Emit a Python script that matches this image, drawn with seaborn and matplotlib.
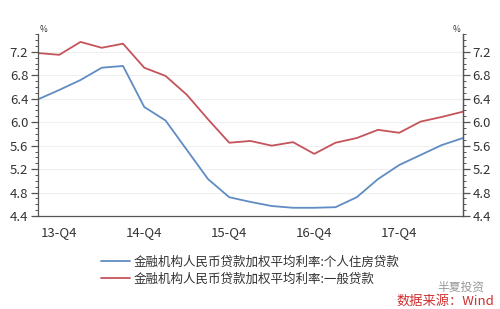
import matplotlib
matplotlib.use("Agg")
import matplotlib.pyplot as plt
import seaborn as sns
import pandas as pd
import numpy as np
from matplotlib.ticker import FixedLocator, MultipleLocator
from matplotlib.lines import Line2D

quarters = ["13-Q3", "13-Q4", "14-Q1", "14-Q2", "14-Q3", "14-Q4", "15-Q1", "15-Q2",
            "15-Q3", "15-Q4", "16-Q1", "16-Q2", "16-Q3", "16-Q4", "17-Q1", "17-Q2",
            "17-Q3", "17-Q4", "18-Q1", "18-Q2", "18-Q3"]
mortgage = [6.39, 6.55, 6.72, 6.93, 6.96, 6.26, 6.03, 5.53, 5.03, 4.72, 4.64,
            4.57, 4.54, 4.54, 4.55, 4.72, 5.03, 5.27, 5.44, 5.61, 5.73]
general = [7.18, 7.15, 7.37, 7.27, 7.34, 6.93, 6.79, 6.47, 6.05, 5.65, 5.68,
           5.60, 5.66, 5.46, 5.65, 5.73, 5.87, 5.82, 6.01, 6.09, 6.18]
tick_labels = ["13-Q4", "14-Q4", "15-Q4", "16-Q4", "17-Q4"]
name_mortgage = "金融机构人民币贷款加权平均利率:个人住房贷款"
name_general = "金融机构人民币贷款加权平均利率:一般贷款"
yticks = [4.4, 4.8, 5.2, 5.6, 6.0, 6.4, 6.8, 7.2]

sns.set_theme(style="white")
plt.rcParams['font.family'] = ['Noto Sans CJK SC', 'DejaVu Sans']

df = pd.DataFrame({
    "idx": list(range(len(quarters))) * 2,
    "rate": mortgage + general,
    "series": [name_mortgage] * len(quarters) + [name_general] * len(quarters),
})

fig = plt.figure(figsize=(5.0, 3.09), dpi=100)
ax = fig.add_axes([0.076, 0.301, 0.850, 0.588])
palette = {name_mortgage: "#5f8cc3", name_general: "#c4545a"}
sns.lineplot(data=df, x="idx", y="rate", hue="series", palette=palette,
             linewidth=1.3, ax=ax, legend=False)

ax.set_xlim(0, len(quarters) - 1)
ax.set_ylim(4.4, 7.5)
ax.set_xlabel("")
ax.set_ylabel("")
tick_pos = [quarters.index(t) for t in tick_labels]
ax.xaxis.set_major_locator(FixedLocator(tick_pos))
ax.set_xticklabels(tick_labels)
ax.xaxis.set_minor_locator(MultipleLocator(1))
ax.yaxis.set_major_locator(FixedLocator(yticks))
ax.yaxis.set_minor_locator(MultipleLocator(0.1))
ax.set_yticklabels([f"{v:.1f}" for v in yticks])
for v in yticks[1:]:
    ax.axhline(v, color="#efefef", linewidth=0.8, zorder=0)

spine_col = "#555555"
for s in ["left", "bottom", "right"]:
    ax.spines[s].set_color(spine_col)
    ax.spines[s].set_linewidth(0.9)
ax.spines["top"].set_visible(False)
ax.tick_params(axis="both", which="major", direction="out", length=5, width=0.9,
               color=spine_col, labelsize=9.5, labelcolor="#333333", pad=2)
ax.tick_params(axis="both", which="minor", direction="out", length=2.5, width=0.7,
               color=spine_col)
ax.tick_params(axis="x", which="major", pad=2)

ax2 = ax.twinx()
ax2.set_ylim(ax.get_ylim())
ax2.yaxis.set_major_locator(FixedLocator(yticks))
ax2.yaxis.set_minor_locator(MultipleLocator(0.1))
ax2.set_yticklabels([f"{v:.1f}" for v in yticks])
for s in ["left", "bottom", "top"]:
    ax2.spines[s].set_visible(False)
ax2.spines["right"].set_color(spine_col)
ax2.spines["right"].set_linewidth(0.9)
ax2.tick_params(axis="y", which="major", direction="out", length=5, width=0.9,
                color=spine_col, labelsize=9.5, labelcolor="#333333", pad=2)
ax2.tick_params(axis="y", which="minor", direction="out", length=2.5, width=0.7,
                color=spine_col)

ax.text(0.005, 1.0, "%", transform=ax.transAxes, fontsize=6, color="#333333",
        ha="left", va="bottom")
ax.text(0.995, 1.0, "%", transform=ax.transAxes, fontsize=6, color="#333333",
        ha="right", va="bottom")

handles = [Line2D([], [], color=palette[name_mortgage], linewidth=1.3),
           Line2D([], [], color=palette[name_general], linewidth=1.3)]
fig.legend(handles, [name_mortgage, name_general], loc="upper center",
           bbox_to_anchor=(0.5, 0.21), frameon=False, fontsize=9.0,
           handlelength=2.3, handletextpad=0.3, labelspacing=0.35,
           labelcolor="#333333")

fig.text(0.968, 0.071, "半夏投资", fontsize=8.5, color="#999999", ha="right", va="center")
fig.text(0.988, 0.026, "数据来源：Wind", fontsize=9.5, color="#d03030", ha="right",
         va="center", style="italic")

fig.savefig("out.png", dpi=100, facecolor="white")
